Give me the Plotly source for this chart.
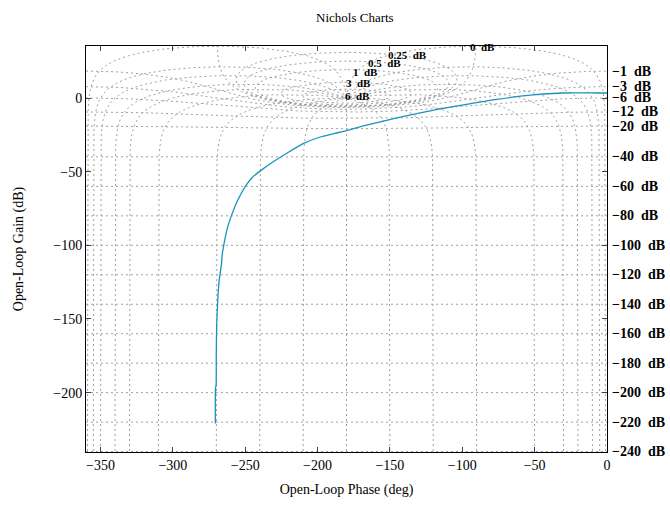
import numpy as np
import plotly.graph_objects as go

# ---- Open-loop response (phase in deg, gain in dB) ----
phase_deg = [-270.6, -270.5, -270.1, -270.0, -269.7, -269.0, -268.0, -266.4, -265.7,
             -264.8, -262.6, -259.6, -255.1, -249.9, -245.0, -240.0, -231.4, -222.4,
             -210.0, -197.6, -188.0, -180.0, -168.3, -145.2, -122.2, -99.2, -76.1,
             -53.1, -30.1, -7.0, 0.0]
gain_db = [-221.0, -197.0, -195.0, -175.0, -155.0, -138.0, -124.0, -112.7, -104.9,
           -99.8, -89.3, -80.0, -69.3, -60.0, -53.8, -49.8, -43.8, -38.2,
           -31.0, -26.3, -24.0, -22.1, -19.0, -13.5, -8.7, -4.7, -1.0,
           1.9, 3.4, 3.4, 3.4]

# ---- Nichols grid definition ----
grid_mag_db = [6, 3, 1, 0.5, 0.25, 0, -1, -3, -6, -12, -20, -40, -60, -80, -100,
               -120, -140, -160, -180, -200, -220, -240]
grid_phase_deg = [-1, -5, -10, -20, -30, -50, -90, -120, -150, -180, -210, -240,
                  -270, -310, -330, -340, -350, -355, -359]

# Labels of the positive closed-loop magnitude curves (as placed on the chart)
top_labels = ["6  dB", "3  dB", "1  dB", "0.5  dB", "0.25  dB", "0  dB"]
top_label_phase = [-172.7, -172.0, -167.1, -154.0, -138.1, -86.3]
top_label_gain = [1.7, 10.2, 17.5, 24.1, 29.4, 34.7]

x_ticks = [-350, -300, -250, -200, -150, -100, -50, 0]
y_ticks = [0, -50, -100, -150, -200]


def wrap(ph):
    return np.where(ph > 0, ph - 360.0, ph)


gx, gy = [], []
# constant closed-loop magnitude curves
th = np.unique(np.concatenate([np.geomspace(1e-4, np.pi, 500), np.linspace(0.005, np.pi, 500)]))
theta = np.concatenate([th, 2 * np.pi - th[::-1]])
for m in grid_mag_db:
    M = 10 ** (m / 20.0)
    T = M * np.exp(1j * theta)
    G = T / (1 - T)
    gx += list(np.round(wrap(np.degrees(np.angle(G))), 3)) + [None]
    gy += list(np.round(20 * np.log10(np.abs(G)), 3)) + [None]

# constant closed-loop phase curves
mm = np.unique(np.concatenate([np.logspace(-13, 13, 1200), np.linspace(0.5, 2.0, 1200)]))
for p in grid_phase_deg:
    T = mm * np.exp(1j * np.radians(p))
    G = T / (1 - T)
    gx += list(np.round(wrap(np.degrees(np.angle(G))), 3)) + [None]
    gy += list(np.round(20 * np.log10(np.abs(G)), 3)) + [None]

fig = go.Figure()
fig.add_trace(go.Scatter(x=gx, y=gy, mode="lines",
                         line=dict(color="#a0a0a0", width=1, dash="2px,3px"),
                         hoverinfo="skip", showlegend=False))
fig.add_trace(go.Scatter(x=phase_deg, y=gain_db, mode="lines",
                         line=dict(color="#1a93bb", width=1.3, shape="spline", smoothing=0.6),
                         showlegend=False))

font_fam = "Liberation Serif, Times New Roman, serif"

# right-side labels for negative closed-loop magnitudes
for m in grid_mag_db:
    if m < 0:
        M = 10 ** (m / 20.0)
        y0 = 20 * np.log10(M / (1 - M))
        fig.add_annotation(x=0, y=float(y0), xref="x", yref="y", text="\u2212%d  dB" % abs(m),
                           showarrow=False, xanchor="left", yanchor="middle", xshift=3,
                           font=dict(family=font_fam, size=14, color="black", weight="bold"))

for t, px, py in zip(top_labels, top_label_phase, top_label_gain):
    fig.add_annotation(x=px, y=py, xref="x", yref="y", text=t, showarrow=False,
                       xanchor="center", yanchor="middle",
                       font=dict(family=font_fam, size=11, color="black", weight="bold"))

fig.update_layout(
    width=670, height=507,
    margin=dict(l=86, r=63, t=46, b=46),
    paper_bgcolor="white", plot_bgcolor="white",
    font=dict(family=font_fam, size=14, color="black"),
    title=dict(text="Nichols Charts", x=0.516, xref="paper", xanchor="center",
               y=0.966, yref="container", yanchor="middle",
               font=dict(family=font_fam, size=13, color="black")),
    xaxis=dict(range=[-360, 0], tickvals=x_ticks, ticks="inside", ticklen=5,
               showline=True, linecolor="black", linewidth=1, mirror="ticks",
               showgrid=False, zeroline=False,
               title=dict(text="Open-Loop Phase (deg)", standoff=12,
                          font=dict(family=font_fam, size=14))),
    yaxis=dict(range=[-240.3, 35.3], tickvals=y_ticks, ticks="inside", ticklen=5,
               showline=True, linecolor="black", linewidth=1, mirror="ticks",
               showgrid=False, zeroline=False,
               title=dict(text="Open-Loop Gain (dB)", standoff=26,
                          font=dict(family=font_fam, size=14))),
)

fig.write_html("out.html", config={"displayModeBar": False},
               post_script="document.body.style.margin='0';")
